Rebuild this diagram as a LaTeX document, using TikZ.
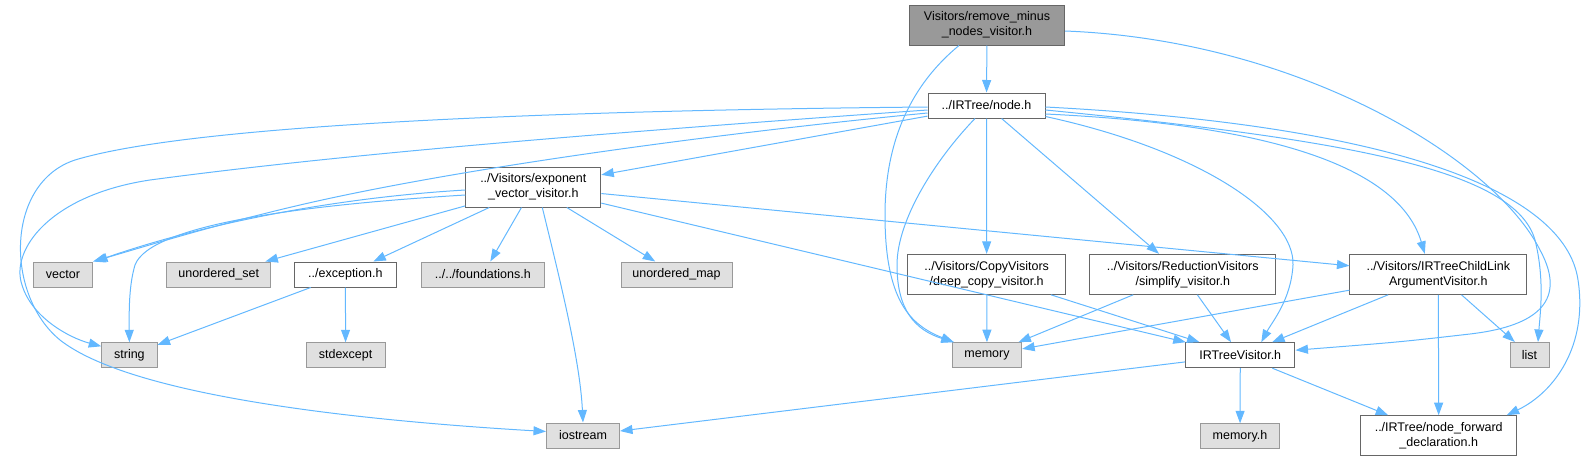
\documentclass[tikz,border=0pt]{standalone}
\usepackage{fontspec}
\setmainfont{Liberation Sans}
\usetikzlibrary{arrows.meta}

\definecolor{edgeblue}{HTML}{63B8FF}
\definecolor{sysfill}{HTML}{E0E0E0}
\definecolor{sysline}{HTML}{999999}
\definecolor{docline}{HTML}{666666}
\definecolor{rootfill}{HTML}{999999}

\begin{document}
\begin{tikzpicture}[x=1pt, y=-1pt,
  file/.style={draw=docline, fill=white, line width=1pt, inner sep=2pt,
    align=center, minimum height=25pt, font=\fontsize{12.5}{15}\selectfont},
  twoline/.style={minimum height=40pt},
  sysfile/.style={file, draw=sysline, fill=sysfill},
  rootfile/.style={file, fill=rootfill},
  dep/.style={draw=edgeblue, line width=1pt, -{Triangle[length=12.5pt, width=9pt]}}]

  \useasboundingbox (0,0) rectangle (1585,461);

  % The header that is documented here
  \node[rootfile, twoline, minimum width=155pt] (root) at (987,25) {Visitors/remove\_minus\\\_nodes\_visitor.h};

  % Its only project include
  \node[file, minimum width=117pt] (nodeh) at (986.5,105.5) {../IRTree/node.h};
  \node[file, twoline, minimum width=135pt] (expo) at (533.3,187) {../Visitors/exponent\\\_vector\_visitor.h};

  % Middle row
  \node[sysfile, minimum width=59pt] (vector) at (63,274.5) {vector};
  \node[sysfile, minimum width=104.5pt] (uset) at (218.7,274.5) {unordered\_set};
  \node[file, minimum width=101.4pt] (exception) at (345.4,274.5) {../exception.h};
  \node[sysfile, minimum width=123.6pt] (found) at (482.8,274.5) {../../foundations.h};
  \node[sysfile, minimum width=111pt] (umap) at (676.5,274.5) {unordered\_map};
  \node[file, twoline, minimum width=158pt] (deepcopy) at (986.7,274.3) {../Visitors/CopyVisitors\\/deep\_copy\_visitor.h};
  \node[file, twoline, minimum width=185.7pt] (simplify) at (1182.8,274.3) {../Visitors/ReductionVisitors\\/simplify\_visitor.h};
  \node[file, twoline, minimum width=176.7pt] (childlink) at (1438.3,274.3) {../Visitors/IRTreeChildLink\\ArgumentVisitor.h};

  % Lower row
  \node[sysfile, minimum width=55.3pt] (string) at (129.4,355.3) {string};
  \node[sysfile, minimum width=78.8pt] (stdexcept) at (345.6,355.3) {stdexcept};
  \node[sysfile, minimum width=69.3pt] (memory) at (987,355.2) {memory};
  \node[file, minimum width=109.3pt] (visitor) at (1240.3,355.2) {IRTreeVisitor.h};
  \node[sysfile, minimum width=39pt] (list) at (1529.5,355) {list};

  % Bottom row
  \node[sysfile, minimum width=73pt] (iostream) at (583,435.5) {iostream};
  \node[sysfile, minimum width=78.4pt] (memoryh) at (1240,436.3) {memory.h};
  \node[file, twoline, minimum width=156pt] (nodefwd) at (1438.7,435.7) {../IRTree/node\_forward\\\_declaration.h};

  % Includes of the root header
  \draw[dep] (root) -- (nodeh);
  \draw[dep] ([xshift=-28pt]root.south) .. controls (905,90) and (885,150) .. (885,215)
    .. controls (885,300) and (910,325) .. ([xshift=2pt]memory.north west);
  \draw[dep] ([yshift=-6pt]root.east) .. controls (1300,40) and (1495,160) .. (1540,250)
    .. controls (1570,305) and (1530,327) .. (1470,334) .. controls (1400,342) .. ([yshift=5pt]visitor.east);

  % Includes of node.h, going left
  \draw[dep] (nodeh) -- (expo);
  \draw[dep] ([yshift=-1.5pt]nodeh.west) .. controls (600,110) and (200,122) .. (75,160)
    .. controls (5,183) and (5,295) .. (60,340) .. controls (130,395) and (350,420) .. ([yshift=4pt]iostream.west);
  \draw[dep] ([yshift=-4.5pt]nodeh.west) .. controls (500,140) and (300,160) .. (150,180)
    .. controls (50,195) and (10,250) .. (22,285) .. controls (32,318) and (70,338) .. ([yshift=-4pt]string.north west);
  \draw[dep] ([yshift=-7.5pt]nodeh.west) .. controls (700,135) and (450,170) .. (300,205)
    .. controls (210,226) and (140,248) .. (vector.north east);
  \draw[dep] ([xshift=-11.5pt]nodeh.south) .. controls (935,160) and (897,220) .. (897,265)
    .. controls (897,310) and (915,330) .. ([xshift=2pt]memory.north west);

  % Includes of node.h, going down and right
  \draw[dep] (nodeh) -- (deepcopy);
  \draw[dep] (nodeh) -- (simplify);
  \draw[dep] ([yshift=-11pt]nodeh.east) .. controls (1200,150) and (1295,215) .. (1293,265)
    .. controls (1291,300) and (1272,322) .. ([xshift=21pt]visitor.north);
  \draw[dep] ([yshift=-8.5pt]nodeh.east) .. controls (1280,125) and (1400,170) .. ([xshift=-13.5pt]childlink.north);
  \draw[dep] ([yshift=-4.5pt]nodeh.east) .. controls (1350,140) and (1515,170) .. (1535,240)
    .. controls (1545,280) and (1540,315) .. ([xshift=8.5pt]list.north);
  \draw[dep] ([yshift=-1.5pt]nodeh.east) .. controls (1390,125) and (1565,190) .. (1578,280)
    .. controls (1588,345) and (1555,392) .. ([xshift=68pt]nodefwd.north);

  % Includes of exponent_vector_visitor.h
  \draw[dep] ([yshift=-3pt]expo.west) .. controls (330,198) and (200,225) .. ([xshift=2pt]vector.north east);
  \draw[dep] ([yshift=-8pt]expo.west) .. controls (300,205) and (150,225) .. (135,265)
    .. controls (129,285) and (129,310) .. (string.north);
  \draw[dep] (expo) -- (uset);
  \draw[dep] (expo) -- (exception);
  \draw[dep] (expo) -- (found);
  \draw[dep] ([xshift=9pt]expo.south) .. controls (560,280) and (580,360) .. (iostream.north);
  \draw[dep] (expo) -- (umap);
  \draw[dep] (expo) -- (visitor);
  \draw[dep] (expo) -- (childlink);

  % Includes of the other project headers
  \draw[dep] (exception) -- (string);
  \draw[dep] (exception) -- (stdexcept);
  \draw[dep] (deepcopy) -- (memory);
  \draw[dep] (deepcopy) -- (visitor);
  \draw[dep] (simplify) -- (memory);
  \draw[dep] (simplify) -- (visitor);
  \draw[dep] (childlink) -- (memory);
  \draw[dep] (childlink) -- (visitor);
  \draw[dep] (childlink) -- (nodefwd);
  \draw[dep] (childlink) -- (list);
  \draw[dep] (visitor) -- (memoryh);
  \draw[dep] (visitor) -- (nodefwd);
  \draw[dep] (visitor) -- (iostream);

\end{tikzpicture}
\end{document}
